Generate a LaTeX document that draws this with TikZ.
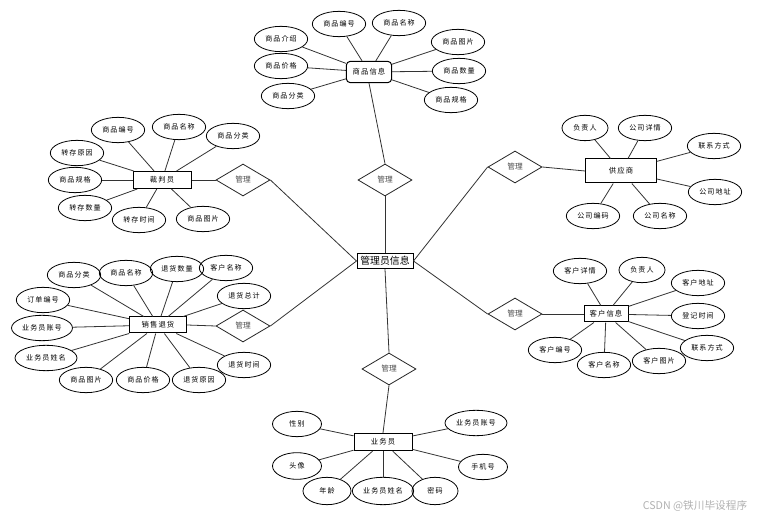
\documentclass[tikz,border=0pt]{standalone}
\usepackage{fontspec}
\setmainfont{Noto Sans CJK SC}
\newfontfamily\spacedcjk[LetterSpace=15]{Noto Sans CJK SC}
\usetikzlibrary{shapes.geometric}
\begin{document}
\begin{tikzpicture}[x=0.75pt,y=-0.75pt,
 attr/.style={ellipse,draw=black,line width=0.6pt,inner sep=0pt,minimum width=40pt,minimum height=19pt,font=\spacedcjk\fontsize{5.3pt}{6pt}\selectfont},
 ent/.style={rectangle,draw=black,line width=0.75pt,inner sep=0pt,font=\spacedcjk\fontsize{5.5pt}{6pt}\selectfont},
 rel/.style={diamond,draw=black!85,line width=0.6pt,inner sep=0pt,minimum width=40.5pt,minimum height=24pt,font=\fontsize{5.8pt}{6pt}\selectfont,text=black!70},
 conn/.style={draw=black!80,line width=0.6pt}]
\useasboundingbox[fill=white] (0,0) rectangle (772,520);

% central entity
\node[rectangle,draw=black,line width=0.75pt,minimum width=42pt,minimum height=11.5pt,inner sep=0pt,font=\fontsize{7.4pt}{8pt}\selectfont] (admin) at (385,261) {管理员信息};

% relationships
\node[rel] (rT) at (385,180) {管理};
\node[rel] (rB) at (389,369) {管理};
\node[rel] (rLT) at (243,180) {管理};
\node[rel] (rLB) at (243,326) {管理};
\node[rel] (rRT) at (515,167) {管理};
\node[rel] (rRB) at (515,314) {管理};

% entities
\node[ent,rounded corners=3pt,minimum width=34pt,minimum height=16pt] (pinfo) at (369,72) {商品信息};
\node[ent,minimum width=43.5pt,minimum height=12.75pt] (judge) at (162,180) {裁判员};
\node[ent,minimum width=53pt,minimum height=18pt] (supp) at (621,171) {供应商};
\node[ent,minimum width=43pt,minimum height=12pt] (ret) at (158,325) {销售退货};
\node[ent,minimum width=33pt,minimum height=12pt] (cust) at (606,314) {客户信息};
\node[ent,minimum width=43.5pt,minimum height=13pt] (staff) at (383,442) {业务员};

% admin connections
\draw[conn] (admin.north) -- (rT.south);
\draw[conn] (admin.south) -- (rB.north);
\draw[conn] (admin.west) -- (rLT.east);
\draw[conn] (admin.west) -- (rLB.east);
\draw[conn] (admin.east) -- (rRT.west);
\draw[conn] (admin.east) -- (rRB.west);
\draw[conn] (pinfo.south) -- (rT.north);
\draw[conn] (staff.north) -- (rB.south);
\draw[conn] (judge.east) -- (rLT.west);
\draw[conn] (ret.east) -- (rLB.west);
\draw[conn] (supp.west) -- (rRT.east);
\draw[conn] (cust.west) -- (rRB.east);

% 商品信息 attributes
\node[attr] (p1) at (339,24) {商品编号};
\node[attr] (p2) at (399,23) {商品名称};
\node[attr] (p3) at (281,39) {商品介绍};
\node[attr] (p4) at (281,66) {商品价格};
\node[attr] (p5) at (288,96) {商品分类};
\node[attr] (p6) at (458,42) {商品图片};
\node[attr] (p7) at (459,71) {商品数量};
\node[attr] (p8) at (451,100) {商品规格};
\foreach \n in {p1,p2,p3,p4,p5,p6,p7,p8} \draw[conn] (\n) -- (pinfo);

% 裁判员 attributes
\node[attr] (j1) at (118,130) {商品编号};
\node[attr] (j2) at (179,127) {商品名称};
\node[attr] (j3) at (233,136) {商品分类};
\node[attr] (j4) at (77,153) {转存原因};
\node[attr] (j5) at (75,180) {商品规格};
\node[attr] (j6) at (85,208) {转存数量};
\node[attr] (j7) at (139,220) {转存时间};
\node[attr] (j8) at (203,219) {商品图片};
\foreach \n in {j1,j2,j3,j4,j5,j6,j7,j8} \draw[conn] (\n) -- (judge);

% 供应商 attributes
\node[attr,minimum width=34.5pt] (s1) at (585,128) {负责人};
\node[attr] (s2) at (645,128) {公司详情};
\node[attr] (s3) at (714,146) {联系方式};
\node[attr] (s4) at (715,192) {公司地址};
\node[attr] (s5) at (593,216) {公司编码};
\node[attr] (s6) at (660,216) {公司名称};
\foreach \n in {s1,s2,s3,s4,s5,s6} \draw[conn] (\n) -- (supp);

% 销售退货 attributes
\node[attr] (r1) at (74,275) {商品分类};
\node[attr] (r2) at (126,273) {商品名称};
\node[attr] (r3) at (177,269) {退货数量};
\node[attr] (r4) at (226,268) {客户名称};
\node[attr] (r5) at (43,300) {订单编号};
\node[attr] (r6) at (244,296) {退货总计};
\node[attr,minimum width=45.75pt] (r7) at (42,328) {业务员账号};
\node[attr,minimum width=46.5pt] (r8) at (46,358) {业务员姓名};
\node[attr] (r9) at (86,380) {商品图片};
\node[attr] (r10) at (143,380) {商品价格};
\node[attr] (r11) at (199,380) {退货原因};
\node[attr] (r12) at (244,365) {退货时间};
\foreach \n in {r1,r2,r3,r4,r5,r6,r7,r8,r9,r10,r11,r12} \draw[conn] (\n) -- (ret);

% 客户信息 attributes
\node[attr] (c1) at (580,271) {客户详情};
\node[attr,minimum width=34.5pt] (c2) at (642,270) {负责人};
\node[attr] (c3) at (698,283) {客户地址};
\node[attr] (c4) at (698,316) {登记时间};
\node[attr] (c5) at (707,348) {联系方式};
\node[attr] (c6) at (555,350) {客户编号};
\node[attr] (c7) at (604,365) {客户名称};
\node[attr] (c8) at (659,361) {客户图片};
\foreach \n in {c1,c2,c3,c4,c5,c6,c7,c8} \draw[conn] (\n) -- (cust);

% 业务员 attributes
\node[attr,minimum width=36.75pt] (u1) at (297,424) {性别};
\node[attr,minimum width=36.75pt,minimum height=20pt] (u2) at (297,466) {头像};
\node[attr,minimum width=36pt,minimum height=20.5pt] (u3) at (327,491) {年龄};
\node[attr,minimum width=46pt,minimum height=20.5pt] (u4) at (383,491) {业务员姓名};
\node[attr,minimum width=34.5pt,minimum height=20.5pt] (u5) at (435,491) {密码};
\node[attr,minimum width=46.5pt] (u6) at (476,423) {业务员账号};
\node[attr,minimum width=36.75pt] (u7) at (483,467) {手机号};
\foreach \n in {u1,u2,u3,u4,u5,u6,u7} \draw[conn] (\n) -- (staff);

% watermark
\node[text=black!30,font=\fontsize{8pt}{9pt}\selectfont,inner sep=0pt] (wm) at (695,506) {CSDN @铁川毕设程序};
\end{tikzpicture}
\end{document}
